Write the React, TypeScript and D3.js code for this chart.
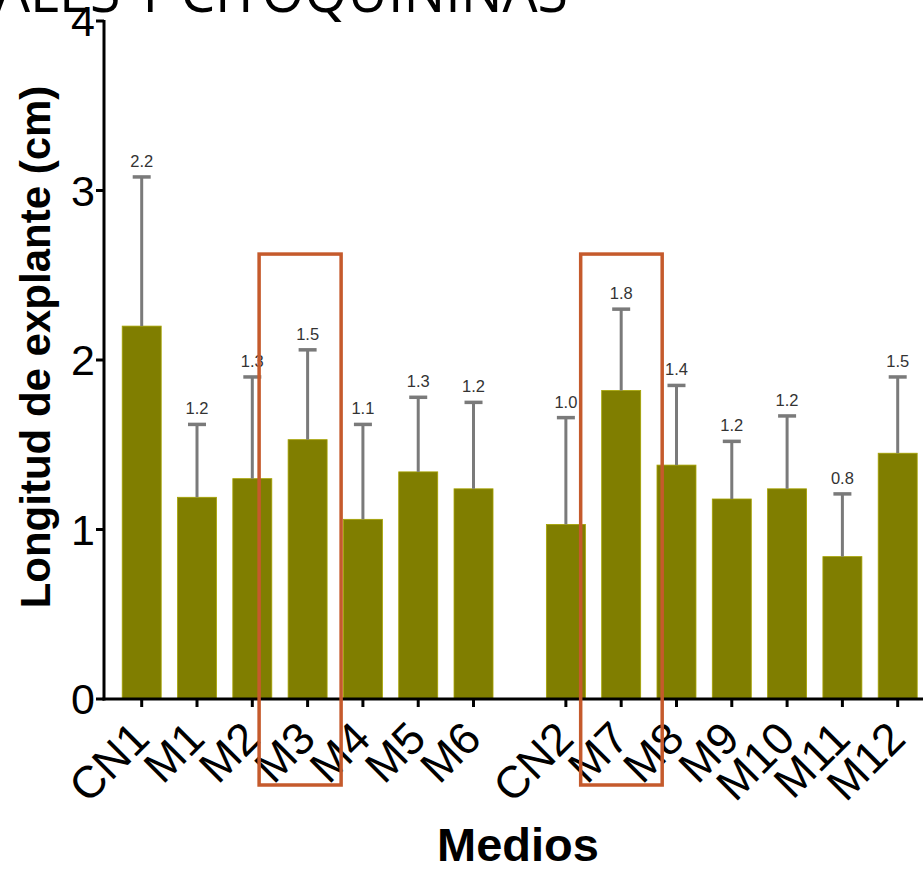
import React from "react";
import * as d3 from "d3";

const group1 = ["CN1", "M1", "M2", "M3", "M4", "M5", "M6"];
const group2 = ["CN2", "M7", "M8", "M9", "M10", "M11", "M12"];
const means1 = [2.2, 1.19, 1.3, 1.53, 1.06, 1.34, 1.24];
const means2 = [1.03, 1.82, 1.38, 1.18, 1.24, 0.84, 1.45];
const upper1 = [3.08, 1.62, 1.9, 2.06, 1.62, 1.78, 1.75];
const upper2 = [1.66, 2.3, 1.85, 1.52, 1.67, 1.21, 1.9];
const labels1 = ["2.2", "1.2", "1.3", "1.5", "1.1", "1.3", "1.2"];
const labels2 = ["1.0", "1.8", "1.4", "1.2", "1.2", "0.8", "1.5"];
const yTicks = [0, 1, 2, 3, 4];
const highlighted = ["M3", "M7"];
const titleText = "ALES Y CITOQUININAS";
const yTitle = "Longitud de explante (cm)";
const xTitle = "Medios";

const W = 923;
const H = 869;
const GAP = 0.67;

type Row = { name: string; mean: number; up: number; label: string; slot: number };

const rows: Row[] = [
  ...group1.map((n, i) => ({ name: n, mean: means1[i], up: upper1[i], label: labels1[i], slot: i })),
  ...group2.map((n, i) => ({ name: n, mean: means2[i], up: upper2[i], label: labels2[i], slot: group1.length + GAP + i })),
];

export default function App() {
  const x = d3.scaleLinear().domain([0, group1.length + GAP + group2.length - 1]).range([141.7, 897.7]);
  const y = d3.scaleLinear().domain([0, 4]).range([699, 21]);
  const axisX = 104;
  const barW = 39;
  const capW = 18;
  const olive = "#807e00";
  const red = "#c55a2c";
  const font = "'Liberation Sans', Arial, sans-serif";

  const boxes = highlighted.map((name) => {
    const r = rows.find((d) => d.name === name)!;
    const cx = x(r.slot);
    return name === "M3"
      ? { x0: cx - 48.5, x1: cx + 33.5 }
      : { x0: cx - 40.5, x1: cx + 41 };
  });

  return (
    <svg width={W} height={H} style={{ position: "absolute", left: 0, top: 0, background: "#fff" }}>
      {/* title fragment */}
      <text x={-5} y={12} fontFamily="'Open Sans', sans-serif" fontSize={58} fill="#000" textLength={573} lengthAdjust="spacingAndGlyphs">
        {titleText}
      </text>

      {/* bars */}
      {rows.map((d) => (
        <rect key={d.name} x={x(d.slot) - barW / 2} y={y(d.mean)} width={barW} height={y(0) - y(d.mean)} fill={olive} stroke="#a6a300" strokeWidth={0.8} />
      ))}

      {/* error bars */}
      {rows.map((d) => (
        <g key={"e" + d.name} stroke="#7a7a7a" strokeWidth={3}>
          <line x1={x(d.slot)} x2={x(d.slot)} y1={y(d.mean)} y2={y(d.up)} />
          <line x1={x(d.slot) - capW / 2} x2={x(d.slot) + capW / 2} y1={y(d.up)} y2={y(d.up)} strokeWidth={3.5} />
        </g>
      ))}

      {/* value labels */}
      {rows.map((d) => (
        <text key={"l" + d.name} x={x(d.slot)} y={y(d.up) - 10} textAnchor="middle" fontFamily={font} fontSize={16.5} fill="#333">
          {d.label}
        </text>
      ))}

      {/* y axis */}
      <line x1={axisX} x2={axisX} y1={y(4) - 1} y2={y(0) + 1.5} stroke="#000" strokeWidth={3} />
      {yTicks.map((t) => (
        <g key={"yt" + t}>
          <line x1={axisX - 8} x2={axisX} y1={y(t)} y2={y(t)} stroke="#000" strokeWidth={3} />
          <text x={axisX - 9} y={y(t)} dy="0.36em" textAnchor="end" fontFamily={font} fontSize={43} fill="#000">
            {t}
          </text>
        </g>
      ))}

      {/* x axis */}
      <line x1={axisX - 1.5} x2={W} y1={y(0)} y2={y(0)} stroke="#000" strokeWidth={3} />
      {rows.map((d) => (
        <g key={"xt" + d.name}>
          <line x1={x(d.slot)} x2={x(d.slot)} y1={y(0)} y2={y(0) + 8} stroke="#000" strokeWidth={3} />
          <text
            transform={`translate(${x(d.slot) + 10},${y(0) + 42}) rotate(-45)`}
            textAnchor="end"
            fontFamily={font}
            fontSize={45}
            fill="#000"
          >
            {d.name}
          </text>
        </g>
      ))}

      {/* axis titles */}
      <text transform={`translate(50,${347}) rotate(-90)`} textAnchor="middle" fontFamily={font} fontWeight="bold" fontSize={42} fill="#000">
        {yTitle}
      </text>
      <text x={518} y={861} textAnchor="middle" fontFamily={font} fontWeight="bold" fontSize={47} fill="#000">
        {xTitle}
      </text>

      {/* highlight boxes */}
      {boxes.map((b, i) => (
        <rect key={"b" + i} x={b.x0} y={y(2.625)} width={b.x1 - b.x0} height={y(0) + 86 - y(2.625)} fill="none" stroke={red} strokeWidth={3.5} />
      ))}
    </svg>
  );
}
